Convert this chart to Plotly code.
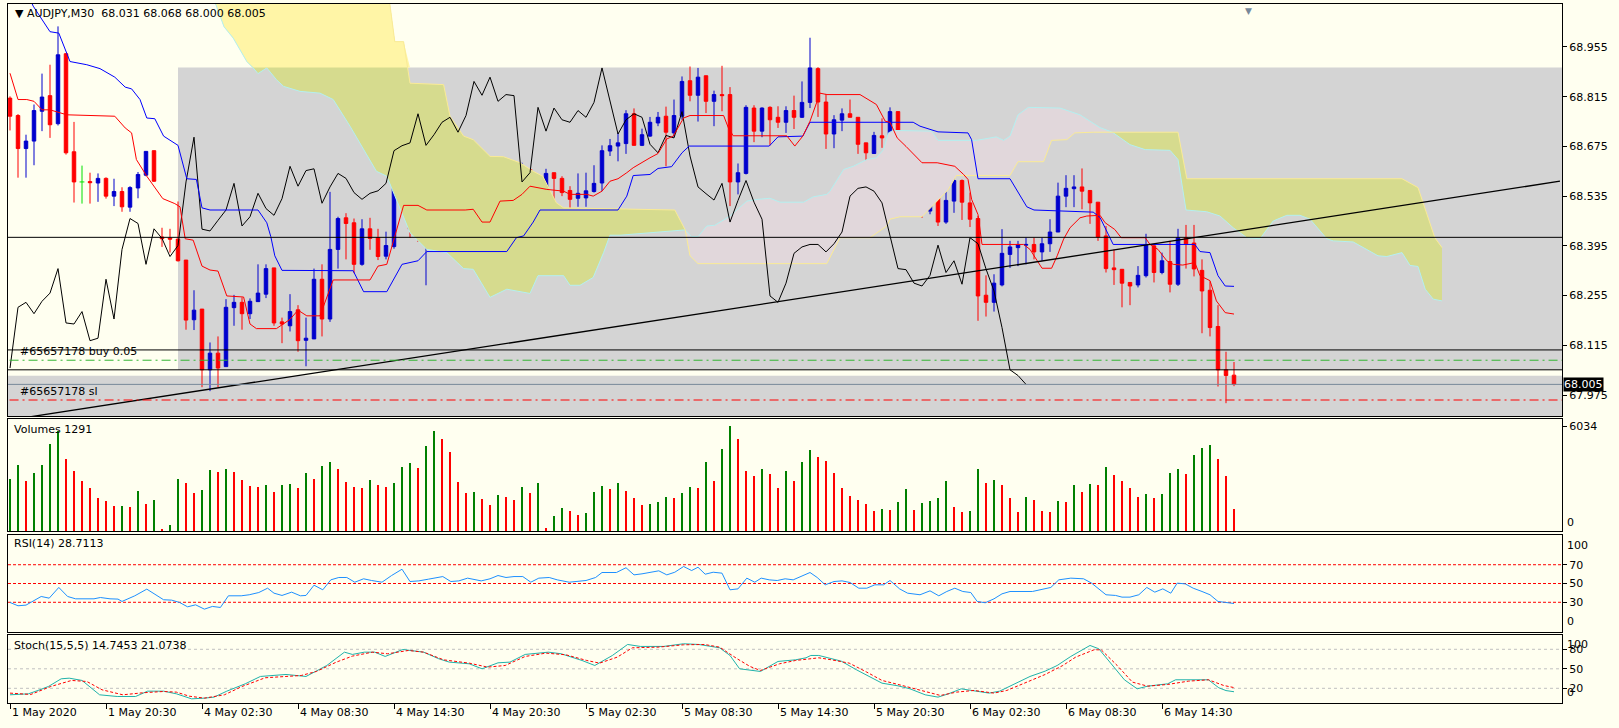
import plotly.graph_objects as go
from plotly.subplots import make_subplots

# AUDJPY M30, bar 0 = 1 May 2020 14:30 ... bar 153 = 6 May 19:00
opens = [68.811, 68.762, 68.669, 68.690, 68.774, 68.818, 68.739, 68.936, 68.660, 68.575,
         68.576, 68.572, 68.585, 68.535, 68.548, 68.504, 68.558, 68.594, 68.663, 68.420,
         68.417, 68.414, 68.355, 68.187, 68.217, 68.046, 68.093, 68.055, 68.221, 68.236,
         68.204, 68.238, 68.259, 68.333, 68.181, 68.170, 68.215, 68.129, 68.133, 68.301,
         68.189, 68.385, 68.474, 68.460, 68.343, 68.443, 68.418, 68.366, 68.393, 68.568,
         68.701, 68.443, 68.437, 68.465, 68.493, 68.571, 68.447, 68.476, 68.545, 68.500,
         68.481, 68.526, 68.619, 68.561, 68.605, 68.610, 68.515, 68.540, 68.601, 68.585,
         68.551, 68.529, 68.530, 68.548, 68.572, 68.662, 68.676, 68.683, 68.767, 68.678,
         68.704, 68.741, 68.760, 68.713, 68.760, 68.860, 68.819, 68.874, 68.802, 68.821,
         68.821, 68.575, 68.599, 68.783, 68.718, 68.785, 68.757, 68.743, 68.776, 68.757,
         68.799, 68.894, 68.800, 68.710, 68.749, 68.767, 68.757, 68.685, 68.655, 68.705,
         68.699, 68.773, 68.649, 68.561, 68.543, 68.493, 68.571, 68.462, 68.521, 68.579,
         68.516, 68.472, 68.256, 68.236, 68.285, 68.371, 68.390, 68.397, 68.399, 68.378,
         68.401, 68.434, 68.535, 68.556, 68.561, 68.551, 68.518, 68.423, 68.333, 68.329,
         68.292, 68.285, 68.311, 68.395, 68.320, 68.351, 68.287, 68.418, 68.403, 68.326,
         68.270, 68.168, 68.046, 68.031]
highs = [68.816, 68.766, 68.708, 68.793, 68.880, 68.905, 69.013, 68.938, 68.744, 68.621,
         68.601, 68.599, 68.588, 68.584, 68.560, 68.563, 68.603, 68.661, 68.663, 68.446,
         68.443, 68.520, 68.355, 68.270, 68.217, 68.123, 68.140, 68.245, 68.257, 68.250,
         68.247, 68.343, 68.343, 68.333, 68.193, 68.259, 68.228, 68.193, 68.331, 68.343,
         68.547, 68.477, 68.487, 68.472, 68.470, 68.474, 68.443, 68.435, 68.621, 68.704,
         68.706, 68.484, 68.496, 68.528, 68.632, 68.571, 68.481, 68.568, 68.552, 68.533,
         68.547, 68.632, 68.633, 68.619, 68.629, 68.612, 68.577, 68.612, 68.601, 68.591,
         68.563, 68.599, 68.601, 68.622, 68.678, 68.696, 68.713, 68.777, 68.782, 68.725,
         68.758, 68.772, 68.787, 68.807, 68.872, 68.900, 68.896, 68.874, 68.832, 68.902,
         68.842, 68.627, 68.791, 68.791, 68.785, 68.788, 68.788, 68.788, 68.818, 68.858,
         68.981, 68.898, 68.823, 68.763, 68.782, 68.807, 68.757, 68.685, 68.716, 68.754,
         68.785, 68.773, 68.649, 68.587, 68.543, 68.613, 68.601, 68.582, 68.608, 68.582,
         68.545, 68.479, 68.312, 68.315, 68.442, 68.409, 68.409, 68.418, 68.418, 68.418,
         68.470, 68.573, 68.594, 68.594, 68.613, 68.551, 68.518, 68.451, 68.385, 68.329,
         68.292, 68.338, 68.429, 68.399, 68.376, 68.409, 68.443, 68.454, 68.454, 68.357,
         68.295, 68.228, 68.097, 68.068]
lows = [68.720, 68.587, 68.587, 68.622, 68.718, 68.699, 68.734, 68.652, 68.517, 68.514,
        68.514, 68.519, 68.528, 68.507, 68.491, 68.491, 68.529, 68.591, 68.575, 68.392,
        68.376, 68.351, 68.159, 68.158, 67.997, 67.986, 67.997, 68.055, 68.170, 68.159,
        68.189, 68.247, 68.248, 68.170, 68.121, 68.154, 68.097, 68.056, 68.133, 68.140,
        68.181, 68.331, 68.357, 68.318, 68.339, 68.384, 68.355, 68.357, 68.387, 68.519,
        68.418, 68.406, 68.284, 68.443, 68.418, 68.409, 68.442, 68.442, 68.474, 68.468,
        68.470, 68.526, 68.540, 68.559, 68.577, 68.512, 68.507, 68.535, 68.490, 68.535,
        68.453, 68.505, 68.505, 68.545, 68.549, 68.648, 68.633, 68.654, 68.678, 68.676,
        68.702, 68.732, 68.619, 68.702, 68.750, 68.802, 68.745, 68.769, 68.732, 68.774,
        68.507, 68.540, 68.596, 68.687, 68.701, 68.678, 68.727, 68.713, 68.724, 68.755,
        68.783, 68.758, 68.668, 68.670, 68.718, 68.757, 68.654, 68.608, 68.655, 68.671,
        68.678, 68.648, 68.542, 68.526, 68.474, 68.484, 68.451, 68.457, 68.488, 68.468,
        68.448, 68.184, 68.196, 68.210, 68.281, 68.333, 68.338, 68.343, 68.357, 68.353,
        68.378, 68.434, 68.504, 68.504, 68.498, 68.457, 68.409, 68.320, 68.285, 68.222,
        68.228, 68.278, 68.306, 68.292, 68.315, 68.264, 68.282, 68.331, 68.309, 68.149,
        68.140, 67.999, 67.952, 68.000]
closes = [68.760, 68.669, 68.690, 68.776, 68.814, 68.736, 68.933, 68.657, 68.575, 68.575,
          68.573, 68.585, 68.535, 68.548, 68.505, 68.559, 68.596, 68.661, 68.577, 68.415,
          68.414, 68.353, 68.186, 68.214, 68.046, 68.093, 68.051, 68.222, 68.236, 68.204,
          68.239, 68.262, 68.331, 68.178, 68.175, 68.210, 68.128, 68.135, 68.301, 68.189,
          68.385, 68.472, 68.458, 68.343, 68.443, 68.416, 68.365, 68.396, 68.575, 68.701,
          68.442, 68.437, 68.467, 68.496, 68.571, 68.451, 68.477, 68.543, 68.500, 68.481,
          68.528, 68.619, 68.563, 68.607, 68.612, 68.515, 68.561, 68.599, 68.585, 68.545,
          68.526, 68.543, 68.550, 68.571, 68.663, 68.677, 68.685, 68.767, 68.678, 68.708,
          68.743, 68.757, 68.715, 68.762, 68.858, 68.819, 68.870, 68.802, 68.821, 68.818,
          68.575, 68.601, 68.785, 68.718, 68.783, 68.750, 68.743, 68.776, 68.757, 68.799,
          68.896, 68.800, 68.710, 68.750, 68.767, 68.757, 68.681, 68.657, 68.706, 68.699,
          68.773, 68.648, 68.561, 68.542, 68.524, 68.571, 68.462, 68.523, 68.579, 68.518,
          68.470, 68.254, 68.236, 68.290, 68.374, 68.392, 68.399, 68.399, 68.378, 68.401,
          68.434, 68.535, 68.557, 68.561, 68.549, 68.516, 68.420, 68.331, 68.328, 68.290,
          68.282, 68.312, 68.397, 68.320, 68.353, 68.287, 68.418, 68.401, 68.330, 68.268,
          68.165, 68.046, 68.030, 68.005]
volumes = [2979, 3786, 2864, 3325, 3786, 4997, 5766, 4132, 3440, 2864,
           2460, 1884, 1711, 1422, 1440, 1365, 2287, 1557, 1768, 77,
           327, 2979, 2748, 2172, 2345, 3498, 3383, 3556, 3383, 2921,
           2575, 2518, 2633, 2230, 2633, 2691, 2460, 3325, 2979, 3729,
           3959, 3556, 2806, 2518, 2500, 2921, 2633, 2518, 2748, 3671,
           3902, 3613, 4882, 5766, 5286, 4536, 2806, 2172, 2230, 1826,
           1480, 2057, 1941, 1768, 2518, 2172, 2748, 192, 846, 1307,
           1134, 903, 1019, 2230, 2575, 2403, 2748, 2287, 1884, 1480,
           1538, 1653, 1941, 1920, 2172, 2518, 2460, 3959, 2864, 4709,
           6034, 5286, 3440, 3152, 3556, 3267, 2460, 3440, 2864, 3959,
           4651, 4248, 4017, 3325, 2460, 1999, 1768, 1538, 1134, 1249,
           1230, 1653, 2403, 1192, 1595, 1711, 1884, 2864, 1365, 1076,
           1134, 3556, 2748, 2921, 2633, 1884, 1076, 1941, 1768, 1134,
           1100, 1711, 1653, 2633, 2230, 2691, 2670, 3671, 3210, 2864,
           2460, 1941, 2114, 1884, 2114, 3325, 3556, 3267, 4363, 4767,
           4940, 4132, 3152, 1291]

tick_bars = [0, 12, 24, 36, 48, 60, 72, 84, 96, 108, 120, 132, 144]
tick_labels = ["1 May 2020", "1 May 20:30", "4 May 02:30", "4 May 08:30", "4 May 14:30",
               "4 May 20:30", "5 May 02:30", "5 May 08:30", "5 May 14:30", "5 May 20:30",
               "6 May 02:30", "6 May 08:30", "6 May 14:30"]
price_ticks = [68.955, 68.815, 68.675, 68.535, 68.395, 68.255, 68.115, 67.975]

# ichimoku lines (bar, price)
tenkan_x = [0, 1, 2.1, 3, 4, 5, 7.1, 13.1, 14.4, 15.2, 15.8, 17.1, 19.1, 20.6, 21.25, 21.9, 22.9,
            24, 25, 26, 27.1, 29.2, 30, 30.8, 33.3, 35, 36, 37.1, 38.75, 40.4, 45, 46, 47.1,
            48.3, 49.2, 51, 52.1, 56.9, 57.9, 59, 60, 61.25, 62.9, 64, 65, 67.1, 69.2, 70,
            72.1, 72.9, 74, 75, 76, 77.1, 77.9, 80, 81, 82.1, 82.9, 84.2, 85, 89.2, 89.8,
            90.4, 97.1, 98.1, 99.1, 100, 101.25, 102.1, 106.25, 108.3, 109.4, 110, 110.9,
            112, 113.1, 114, 115.9, 118.1, 119.2, 119.75, 120.2, 121, 121.5, 126.7, 127.5,
            128.4, 129, 130.2, 130.9, 131.7, 132.5, 133.75, 134.6, 136.25, 136.9, 138.1,
            138.9, 141.9, 142.5, 143.5, 144.6, 145.4, 146.6, 148.1, 148.75, 150, 150.8,
            151.9, 153]
tenkan_y = [68.881, 68.807, 68.807, 68.802, 68.778, 68.778, 68.764, 68.760, 68.727, 68.713,
            68.638, 68.591, 68.528, 68.514, 68.505, 68.415, 68.411, 68.338, 68.327, 68.324,
            68.254, 68.251, 68.175, 68.162, 68.162, 68.188, 68.214, 68.198, 68.198, 68.299,
            68.299, 68.338, 68.343, 68.437, 68.509, 68.509, 68.496, 68.496, 68.498, 68.462,
            68.462, 68.521, 68.523, 68.540, 68.563, 68.554, 68.549, 68.540, 68.540, 68.535,
            68.549, 68.577, 68.584, 68.601, 68.615, 68.643, 68.655, 68.696, 68.704, 68.755,
            68.762, 68.762, 68.727, 68.705, 68.705, 68.676, 68.704, 68.746, 68.825, 68.821,
            68.821, 68.793, 68.746, 68.743, 68.699, 68.675, 68.650, 68.629, 68.629, 68.619,
            68.596, 68.582, 68.526, 68.483, 68.399, 68.399, 68.385, 68.353, 68.332, 68.332,
            68.367, 68.414, 68.446, 68.474, 68.479, 68.481, 68.460, 68.441, 68.418, 68.418,
            68.399, 68.385, 68.353, 68.343, 68.341, 68.348, 68.311, 68.297, 68.240, 68.207,
            68.203]
kijun_x = [2.5, 2.9, 5, 6.1, 7.5, 9.6, 11.25, 13.1, 14.4, 15.2, 16.25, 17.1, 18.1, 19.2, 21,
           21.5, 22.1, 23.3, 24, 25, 31, 32.1, 32.6, 33.1, 34, 42.9, 44.2, 47.1, 49, 51, 52.1,
           62.1, 63.3, 64.2, 65.4, 66.25, 76, 77.1, 77.9, 80, 81, 82.7, 84, 84.9, 94.9, 96,
           99.1, 100, 112.9, 113.75, 116, 119.75, 120.2, 121, 125, 127.1, 128, 135.4, 136.25,
           137.9, 148.1, 148.75, 150, 151, 151.9, 153]
kijun_y = [69.090, 69.070, 68.998, 68.994, 68.914, 68.905, 68.894, 68.870, 68.842, 68.837,
           68.807, 68.755, 68.753, 68.704, 68.678, 68.638, 68.584, 68.582, 68.502, 68.496,
           68.496, 68.460, 68.421, 68.367, 68.326, 68.325, 68.266, 68.266, 68.343, 68.353,
           68.379, 68.379, 68.418, 68.423, 68.462, 68.496, 68.496, 68.535, 68.593, 68.596,
           68.613, 68.618, 68.657, 68.676, 68.676, 68.702, 68.704, 68.743, 68.743, 68.732,
           68.716, 68.713, 68.694, 68.584, 68.584, 68.505, 68.496, 68.490, 68.475, 68.399,
           68.399, 68.379, 68.376, 68.311, 68.282, 68.281]
span_a_x = [24, 47.0, 47.5, 48.1, 49.2, 50, 54.2, 55, 56.7, 57.9, 60, 61.7, 63.75, 65.4, 66.6,
            68.3, 69.2, 76.25, 83.1, 84.4, 85, 86, 102.1, 103.75, 107.5, 109.6, 110, 111.25,
            114, 117.3, 118.3, 125, 126, 129.2, 130.2, 132.1, 133.1, 135.4, 137.8, 146.0,
            147.1, 174, 176, 178.1, 179]
span_a_y = [69.200, 69.120, 69.073, 68.970, 68.970, 68.853, 68.849, 68.760, 68.704, 68.694,
            68.647, 68.646, 68.629, 68.605, 68.591, 68.516, 68.502, 68.498, 68.496, 68.440,
            68.367, 68.345, 68.345, 68.418, 68.418, 68.451, 68.470, 68.477, 68.477, 68.554,
            68.593, 68.593, 68.632, 68.632, 68.692, 68.694, 68.713, 68.715, 68.715, 68.715,
            68.584, 68.584, 68.559, 68.418, 68.390]
span_b_x = [24, 25.75, 26.75, 27.9, 28.75, 29.6, 30.4, 31, 32.1, 33.3, 34.2, 36.25, 38.75, 40.4,
            42.5, 44.2, 45.8, 47.1, 48.3, 50, 52.1, 54.6, 56.7, 57.9, 60, 62.1, 65, 66, 69.2,
            70, 71.25, 72.9, 74.2, 75, 76.25, 84.2, 84.4, 85.2, 86, 87.1, 88.1, 90, 92.1, 93.5,
            95, 96.25, 99.2, 100.4, 102.1, 102.5, 104.2, 105.4, 107.1, 108.3, 109.2, 109.8,
            110.4, 115.2, 116, 120.8, 122.5, 123.3, 124.2, 125, 126, 127.3, 131.25, 133.75,
            136.25, 137.8, 140, 141.9, 145, 146, 147, 149.6, 151.25, 152.9, 154.6, 156.25,
            157.9, 159.6, 161.25, 162.5, 164.6, 165.4, 167.9, 171, 172.1, 174, 175, 176,
            176.9, 177.9, 179]
span_b_y = [69.150, 69.073, 69.012, 68.980, 68.947, 68.914, 68.896, 68.880, 68.896, 68.863,
            68.844, 68.830, 68.825, 68.807, 68.732, 68.666, 68.605, 68.591, 68.526, 68.432,
            68.385, 68.376, 68.331, 68.329, 68.250, 68.273, 68.261, 68.311, 68.311, 68.284,
            68.284, 68.306, 68.376, 68.425, 68.425, 68.441, 68.440, 68.421, 68.421, 68.451,
            68.453, 68.479, 68.521, 68.526, 68.529, 68.518, 68.518, 68.533, 68.540, 68.549,
            68.610, 68.619, 68.638, 68.643, 68.666, 68.713, 68.720, 68.718, 68.692, 68.692,
            68.699, 68.702, 68.692, 68.704, 68.764, 68.785, 68.783, 68.764, 68.728, 68.715,
            68.680, 68.666, 68.664, 68.638, 68.496, 68.491, 68.479, 68.446, 68.418, 68.415,
            68.465, 68.481, 68.481, 68.470, 68.415, 68.409, 68.406, 68.367, 68.365, 68.376,
            68.340, 68.337, 68.273, 68.245, 68.240]
kumo_cross = [84.4, 137.8]

rsi_x = [0, 1, 2, 2.8, 3.9, 4.9, 6.1, 7.2, 8.2, 10.5, 11.3, 12.5, 13.5, 14, 15.6, 17.1, 18.1,
         19.2, 20.2, 21.2, 22.2, 23.2, 24.3, 25.3, 26.3, 27.3, 28.9, 29.9, 31.1, 32.2, 33, 34,
         35.2, 36.3, 37, 38, 39.1, 40.1, 41.1, 42.1, 43.1, 44.2, 45.2, 46.5, 47.7, 49, 50, 51.1,
         52.3, 54.1, 55.1, 56.1, 57.2, 58.9, 60, 61, 62, 63, 64.1, 65.1, 66.1, 67.4, 68.4, 69.9,
         72, 73.2, 74, 75.8, 77, 78, 79, 80.1, 81.1, 82.1, 83.1, 84.2, 85.2, 86, 86.9, 87.9, 89,
         90, 91, 92.1, 93.1, 93.9, 94.9, 95.9, 96.9, 97.9, 98.9, 100, 100.9, 101.9, 103, 104,
         105, 106.1, 107.1, 108.1, 109.2, 110, 111.2, 112.2, 113.75, 115, 116.1, 117.1, 118.1,
         119.1, 120.1, 120.9, 121.9, 123, 124, 125, 127.8, 128.8, 130.1, 131.1, 132.6, 134.2,
         135.2, 137, 138.2, 139, 140, 141.1, 142.1, 143.1, 144.1, 145.1, 145.9, 146.9, 147.9,
         149, 150, 151, 152, 153]
rsi_y = [29.8, 26.3, 27.0, 30.9, 36.2, 34.4, 45.8, 36.2, 33.7, 33.7, 35.1, 33.7, 33.4, 30.9,
         36.9, 44.0, 39.0, 32.7, 32.3, 29.8, 25.2, 27.3, 22.7, 25.6, 24.5, 36.9, 36.9, 38.0,
         40.4, 45.0, 39.7, 37.3, 40.8, 36.9, 37.3, 48.2, 43.3, 53.9, 56.4, 56.4, 51.4, 55.0,
         53.2, 51.4, 58.5, 65.2, 52.1, 52.8, 54.6, 57.4, 52.1, 52.8, 55.7, 52.8, 55.0, 58.5,
         56.4, 57.4, 57.4, 51.4, 55.7, 56.4, 53.9, 51.4, 53.2, 56.4, 61.7, 61.7, 66.8, 59.2,
         60.3, 62.0, 63.5, 59.2, 62.0, 68.1, 63.8, 67.3, 59.9, 62.0, 61.0, 43.3, 44.3, 55.7,
         51.4, 55.7, 53.9, 53.2, 55.0, 53.9, 57.4, 61.7, 56.4, 48.6, 52.1, 52.8, 51.1, 45.0,
         45.0, 48.6, 48.6, 53.2, 44.3, 39.7, 38.0, 42.2, 36.9, 41.5, 45.0, 41.5, 40.4, 30.9,
         29.5, 33.7, 39.0, 41.5, 41.5, 43.3, 45.8, 53.9, 55.7, 55.0, 50.4, 38.0, 37.3, 35.5,
         35.5, 38.0, 45.8, 40.8, 44.3, 39.7, 50.4, 49.6, 45.0, 41.5, 38.0, 30.9, 30.2, 28.7]

stoch_x = [0, 2.3, 3.5, 4.8, 6.4, 7.4, 9, 11.2, 13.4, 15.7, 17.2, 19.2, 20.8, 22.7, 24.3, 25.5,
           27.1, 29.4, 31.3, 34.5, 37, 38, 39.6, 41.8, 42.8, 44.3, 45.6, 46.9, 49.1, 51.7, 53.6,
           54.9, 57.4, 59, 61, 62.5, 64.4, 67.3, 68.9, 71.5, 73.1, 75.3, 77.2, 78.8, 81.7, 84.2,
           86.1, 88.7, 90, 91.2, 93.8, 96, 98.2, 99.5, 100.1, 101.1, 102.4, 103.9, 105.8, 107.4,
           109, 111, 112.5, 114.4, 116, 117.3, 118.9, 120.2, 122.4, 123.7, 125.6, 127.5, 129.4,
           130.9, 132.6, 133.9, 135, 136.1, 137.7, 139.3, 140.9, 142.2, 144.7, 145.7, 149.8,
           151.1, 152, 153]
stoch_y = [10.0, 11.5, 16.7, 22.8, 34.6, 35.6, 32.1, 10.0, 7.4, 7.4, 15.6, 15.6, 11.5, 3.8, 4.9,
           6.4, 15.6, 26.9, 38.2, 41.3, 38.2, 44.9, 55.1, 75.6, 72.1, 75.6, 75.6, 69.0, 79.7,
           75.6, 65.4, 60.3, 57.7, 50.0, 59.2, 60.3, 72.1, 75.6, 73.1, 62.8, 55.1, 70.5, 87.4,
           84.4, 84.4, 88.5, 87.4, 82.3, 70.5, 50.0, 45.9, 61.3, 63.8, 66.9, 70.5, 70.5, 66.9,
           61.8, 48.5, 38.2, 27.9, 23.8, 19.2, 10.0, 6.4, 11.5, 19.2, 16.7, 12.6, 15.6, 26.9,
           38.2, 46.4, 55.1, 69.0, 78.2, 85.9, 80.8, 57.7, 33.1, 19.2, 23.3, 26.9, 33.1, 33.1,
           20.8, 16.5, 14.7]
signal_x = [0, 2.6, 5.1, 7.7, 9.6, 11.5, 14.1, 16.6, 19.2, 20.8, 22.4, 24.3, 26.8, 29, 31.9,
            36.4, 38.3, 40.8, 42.8, 45.3, 47.2, 49.8, 51.7, 54.2, 57.4, 59.7, 61.9, 64.4, 67,
            69.5, 72.1, 73.7, 75.9, 77.8, 81, 84.2, 86.8, 88.7, 90.9, 92.5, 93.8, 96.2, 98.2,
            101.1, 102.7, 104.9, 107.1, 109, 111.5, 114.1, 116.3, 118.3, 120.5, 123, 124.6,
            126.8, 129.4, 131.6, 133.2, 135.5, 136.4, 138.4, 140.3, 142.2, 144.7, 147.3, 149.8,
            151.7, 153]
signal_y = [12.6, 10.5, 22.8, 32.1, 30.5, 17.7, 10.0, 13.1, 15.1, 14.1, 7.9, 4.9, 10.0, 22.8,
            36.2, 39.7, 45.9, 60.3, 69.5, 75.6, 73.1, 78.2, 75.6, 63.8, 58.7, 52.6, 55.1, 69.0,
            74.1, 71.5, 62.8, 58.7, 67.9, 82.3, 83.3, 86.9, 87.4, 83.3, 65.4, 53.6, 47.4, 57.7,
            62.8, 66.9, 63.8, 58.7, 44.9, 32.1, 24.4, 15.6, 9.0, 14.1, 16.7, 12.6, 16.7, 27.9,
            41.3, 55.1, 67.9, 79.2, 79.2, 55.1, 29.5, 23.3, 25.9, 31.0, 33.1, 24.4, 21.1]

# chart objects
trend_x = [2.6, 193.75]
trend_y = [67.914, 68.577]
hlines = [68.419, 68.102, 68.046]
order_price = 68.073
sl_price = 67.961
bid = 68.005
box_top = 68.897      # gray rectangle from bar 21
box_left = 21
box_bottom = 68.046
band_top = 68.029     # gray band across the whole chart bottom

BG = "#FFFFF0"
BULL = "#0000CD"
BEAR = "#FF0000"
FONT = "DejaVu Sans"

n = len(closes)
bars = list(range(n))
x_range = [-0.25, 194.0]

fig = make_subplots(rows=4, cols=1, shared_xaxes=True, vertical_spacing=0)


def part(xs, ys, lo, hi):
    pts = [(a, b) for a, b in zip(xs, ys) if lo <= a <= hi]
    return [p[0] for p in pts], [p[1] for p in pts]


# kumo fills
segments = [(24, kumo_cross[0], "#D6DB8E"), (kumo_cross[0], kumo_cross[1], "#E1D7DB"),
            (kumo_cross[1], 179, "#D6DB8E")]
for lo, hi, col in segments:
    bx, by = part(span_b_x, span_b_y, lo, hi)
    ax, ay = part(span_a_x, span_a_y, lo, hi)
    fig.add_trace(go.Scatter(x=bx, y=by, mode="lines", line=dict(width=0), hoverinfo="skip",
                             showlegend=False), row=1, col=1)
    fig.add_trace(go.Scatter(x=ax, y=ay, mode="lines", line=dict(width=0), fill="tonexty",
                             fillcolor=col, hoverinfo="skip", showlegend=False), row=1, col=1)

# part of the cloud above the gray box shows plain yellow
bx, by = part(span_b_x, span_b_y, 24, kumo_cross[0])
ax, ay = part(span_a_x, span_a_y, 24, kumo_cross[0])
fig.add_trace(go.Scatter(x=bx, y=[max(v, box_top) for v in by], mode="lines", line=dict(width=0),
                         hoverinfo="skip", showlegend=False), row=1, col=1)
fig.add_trace(go.Scatter(x=ax, y=[max(v, box_top) for v in ay], mode="lines", line=dict(width=0),
                         fill="tonexty", fillcolor="#FFF5A6", hoverinfo="skip", showlegend=False),
              row=1, col=1)

fig.add_trace(go.Scatter(x=span_b_x, y=span_b_y, mode="lines", line=dict(color="#B4F0F0", width=1),
                         showlegend=False), row=1, col=1)
fig.add_trace(go.Scatter(x=span_a_x, y=span_a_y, mode="lines", line=dict(color="#FAEB96", width=1),
                         showlegend=False), row=1, col=1)

# chikou = close shifted 26 bars back
fig.add_trace(go.Scatter(x=[i - 26 for i in bars[26:]], y=closes[26:], mode="lines",
                         line=dict(color="black", width=1), showlegend=False), row=1, col=1)
fig.add_trace(go.Scatter(x=kijun_x, y=kijun_y, mode="lines", line=dict(color="#0000FF", width=1),
                         showlegend=False), row=1, col=1)
fig.add_trace(go.Scatter(x=tenkan_x, y=tenkan_y, mode="lines", line=dict(color="#FF0000", width=1),
                         showlegend=False), row=1, col=1)
fig.add_trace(go.Scatter(x=trend_x, y=trend_y, mode="lines", line=dict(color="black", width=1.3),
                         showlegend=False), row=1, col=1)

# candles (dojis drawn separately in green)
doji = [i for i in bars if opens[i] == closes[i]]
body = [i for i in bars if i not in doji]
fig.add_trace(go.Candlestick(
    x=body, open=[opens[i] for i in body], high=[highs[i] for i in body],
    low=[lows[i] for i in body], close=[closes[i] for i in body],
    increasing=dict(line=dict(color=BULL, width=1), fillcolor=BULL),
    decreasing=dict(line=dict(color=BEAR, width=1), fillcolor=BEAR),
    whiskerwidth=0, showlegend=False, hoverinfo="skip"), row=1, col=1)
for i in doji:
    fig.add_trace(go.Scatter(x=[i, i, None, i - 0.3, i + 0.3],
                             y=[lows[i], highs[i], None, opens[i], opens[i]],
                             mode="lines", line=dict(color="#00E000", width=1), showlegend=False),
                  row=1, col=1)

# volumes: green when higher than previous bar
vol_colors = ["#008000" if i == 0 or volumes[i] > volumes[i - 1] else "#FF0000" for i in bars]
fig.add_trace(go.Bar(x=bars, y=volumes, marker=dict(color=vol_colors, line=dict(width=0)),
                     width=0.16, showlegend=False, hoverinfo="skip"), row=2, col=1)

fig.add_trace(go.Scatter(x=rsi_x, y=rsi_y, mode="lines", line=dict(color="#1E90FF", width=1),
                         showlegend=False), row=3, col=1)

fig.add_trace(go.Scatter(x=stoch_x, y=stoch_y, mode="lines", line=dict(color="#20B2AA", width=1),
                         showlegend=False), row=4, col=1)
fig.add_trace(go.Scatter(x=signal_x, y=signal_y, mode="lines",
                         line=dict(color="#FF0000", width=1, dash="3px,2px"), showlegend=False),
              row=4, col=1)

shapes = []
# background boxes
shapes.append(dict(type="rect", xref="x", yref="y", x0=box_left, x1=x_range[1] + 5,
                   y0=box_bottom, y1=box_top, fillcolor="#D4D4D4", line=dict(width=0), layer="below"))
shapes.append(dict(type="rect", xref="x domain", yref="y", x0=0, x1=1, y0=67.80, y1=band_top,
                   fillcolor="#D4D4D4", line=dict(width=0), layer="below"))
for lv in hlines:
    shapes.append(dict(type="line", xref="x domain", yref="y", x0=0, x1=1, y0=lv, y1=lv,
                       line=dict(color="black", width=1)))
shapes.append(dict(type="line", xref="x domain", yref="y", x0=0.001, x1=1, y0=order_price,
                   y1=order_price, line=dict(color="#32B432", width=1, dash="9px,4px,2px,4px")))
shapes.append(dict(type="line", xref="x domain", yref="y", x0=0.001, x1=1, y0=sl_price,
                   y1=sl_price, line=dict(color="#FF0000", width=1, dash="9px,4px,2px,4px")))
shapes.append(dict(type="line", xref="x domain", yref="y", x0=0, x1=1, y0=bid, y1=bid,
                   line=dict(color="#778899", width=1)))
for lv in [70, 50, 30]:
    shapes.append(dict(type="line", xref="x3 domain", yref="y3", x0=0, x1=1, y0=lv, y1=lv,
                       line=dict(color="#FF0000", width=1, dash="3px,2px"), layer="below"))
for lv in [80, 50, 20]:
    shapes.append(dict(type="line", xref="x4 domain", yref="y4", x0=0, x1=1, y0=lv, y1=lv,
                       line=dict(color="#C0C0C0", width=1, dash="3px,3px"), layer="below"))

txt = dict(family=FONT, size=11, color="black")
ann = []
ann.append(dict(text="▼ AUDJPY,M30  68.031 68.068 68.000 68.005", xref="paper", yref="paper",
                x=0.003, y=0.9857, xanchor="left", yanchor="middle", showarrow=False, font=txt))
ann.append(dict(text="#65657178 buy 0.05", xref="paper", yref="y", x=0.0064, y=order_price,
                xanchor="left", yanchor="bottom", showarrow=False, font=txt))
ann.append(dict(text="#65657178 sl", xref="paper", yref="y", x=0.0064, y=sl_price,
                xanchor="left", yanchor="bottom", showarrow=False, font=txt))
ann.append(dict(text="%.3f" % bid, xref="paper", yref="y", x=1, y=bid, xanchor="left", xshift=1,
                yanchor="middle", showarrow=False, bgcolor="black", borderpad=0,
                font=dict(family=FONT, size=11, color="white")))
ann.append(dict(text="Volumes %d" % volumes[-1], xref="paper", yref="paper", x=0.0026, y=0.3906,
                xanchor="left", yanchor="middle", showarrow=False, font=txt))
ann.append(dict(text="RSI(14) 28.7113", xref="paper", yref="paper", x=0.0026, y=0.2275,
                xanchor="left", yanchor="middle", showarrow=False, font=txt))
ann.append(dict(text="Stoch(15,5,5) 14.7453 21.0738", xref="paper", yref="paper", x=0.0026,
                y=0.082, xanchor="left", yanchor="middle", showarrow=False, font=txt))
# edge labels on the right scales
for yref, val, anchor in [("y2", 0, "bottom"), ("y3", 100, "top"), ("y3", 0, "bottom"),
                          ("y4", 100, "top"), ("y4", 0, "bottom")]:
    ann.append(dict(text=str(val), xref="paper", yref=yref, x=1, y=val, xanchor="left", xshift=3,
                    yanchor=anchor, showarrow=False, font=txt))
for b, lab in zip(tick_bars, tick_labels):
    ann.append(dict(text=lab, xref="x4", yref="paper", x=b, y=-0.0129, xanchor="left",
                    yanchor="middle", showarrow=False, font=txt))
ann.append(dict(text="▼", xref="x", yref="paper", x=154.8, y=1.0, yanchor="top", showarrow=False,
                font=dict(family=FONT, size=9, color="#778899")))

fig.update_layout(
    width=1619, height=728,
    margin=dict(l=8, r=57, t=4, b=25),
    paper_bgcolor=BG, plot_bgcolor=BG,
    boxgap=0.38,
    bargap=0,
    showlegend=False,
    shapes=shapes, annotations=ann,
    font=txt,
)

ax_common = dict(showgrid=False, zeroline=False, showline=True, mirror=True, linecolor="black",
                 linewidth=1, range=x_range, rangeslider=dict(visible=False))
for r in range(1, 5):
    fig.update_xaxes(ax_common, row=r, col=1)
fig.update_xaxes(tickmode="array", tickvals=tick_bars, ticks="outside", ticklen=5,
                 tickcolor="black", showticklabels=False, row=4, col=1)
fig.update_xaxes(ticks="", showticklabels=False, row=1, col=1)
fig.update_xaxes(ticks="", showticklabels=False, row=2, col=1)
fig.update_xaxes(ticks="", showticklabels=False, row=3, col=1)

y_common = dict(side="right", showgrid=False, zeroline=False, showline=True, mirror=True,
                linecolor="black", linewidth=1, ticks="outside", ticklen=4, tickcolor="black",
                tickfont=txt, tickmode="array")
fig.update_yaxes(y_common, domain=[0.4106, 1.0], range=[67.916, 69.076], tickvals=price_ticks,
                 tickformat=".3f", row=1, col=1)
fig.update_yaxes(y_common, domain=[0.2461, 0.4063], range=[0, 6450], tickvals=[max(volumes)],
                 row=2, col=1)
fig.update_yaxes(y_common, domain=[0.1016, 0.2403], range=[-1.6, 101.6], tickvals=[70, 50, 30],
                 row=3, col=1)
fig.update_yaxes(y_common, domain=[0.0, 0.0973], range=[-2.6, 102], tickvals=[80, 50, 20],
                 row=4, col=1)

# the page's default 8px body margin would push the chart off the window
fig.write_html("out.html", config={"displayModeBar": False},
               post_script="document.body.style.margin='0';"
                           "document.body.style.overflow='hidden';")
